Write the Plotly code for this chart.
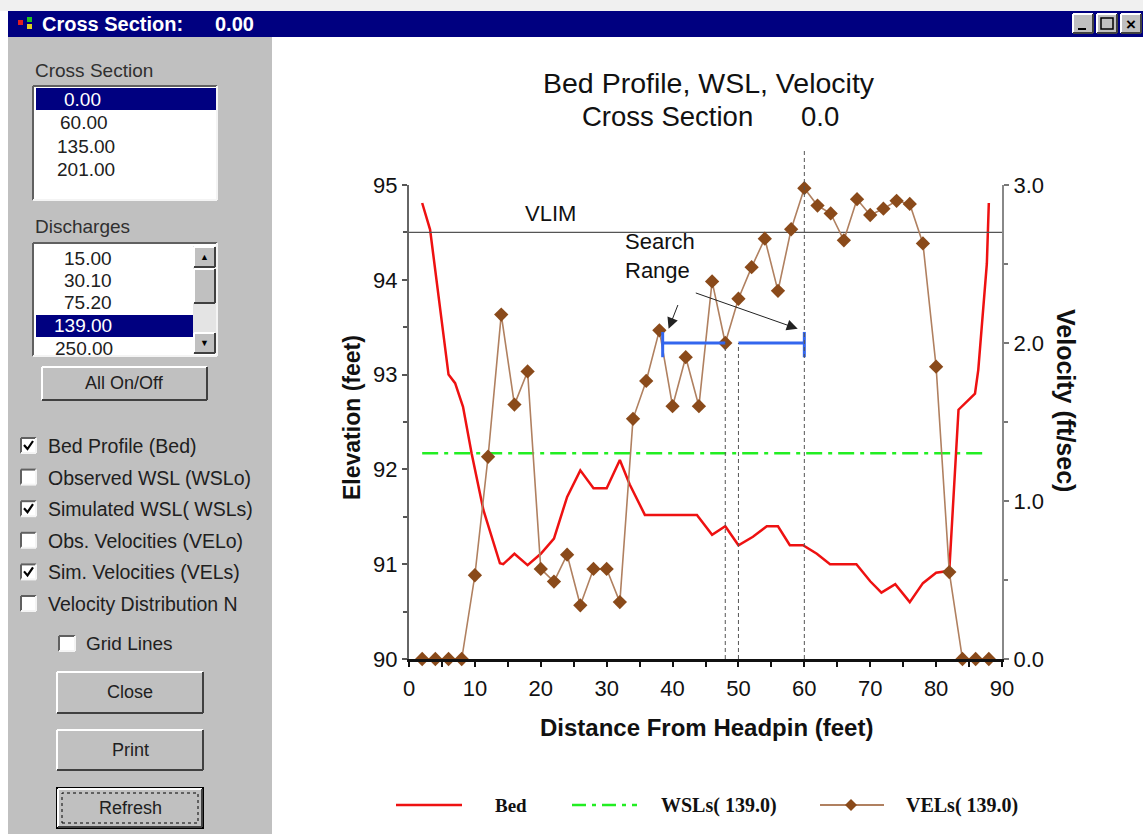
import plotly.graph_objects as go

W, H = 1143, 834

# bed profile: distance from headpin (ft) / elevation (ft)
bed_x = [2, 3.2, 6, 7, 8.2, 9.5, 11.3, 13.8, 14.3, 16, 18, 20, 22, 24, 26, 28, 30, 32, 33.5, 35.8,
         43.7, 46, 48, 50, 52.2, 54.3, 56, 57.8, 59.8, 61.9, 63.9, 67.9, 70, 71.7, 73.8, 76, 78, 80, 82, 83.4,
         85.9, 86.4, 87.7, 88]
bed_elev = [94.81, 94.53, 93.0, 92.91, 92.66, 92.17, 91.57, 91.01, 91.0, 91.11, 90.99, 91.11, 91.27, 91.71,
            91.99, 91.8, 91.8, 92.1, 91.84, 91.52, 91.52, 91.31, 91.4, 91.2, 91.29, 91.4, 91.4, 91.2, 91.2,
            91.11, 91.0, 91.0, 90.82, 90.7, 90.79, 90.6, 90.8, 90.91, 90.93, 92.63, 92.8, 93.05, 94.17, 94.81]

# simulated velocities (ft/sec)
vel_x = [2, 4, 6, 8, 10, 12, 14, 16, 18, 20, 22, 24, 26, 28, 30, 32, 34, 36, 38, 40, 42, 44,
         46, 48, 50, 52, 54, 56, 58, 60, 62, 64, 66, 68, 70, 72, 74, 76, 78, 80, 82, 84, 86, 88]
vel = [0, 0, 0, 0, 0.53, 1.28, 2.18, 1.61, 1.82, 0.57, 0.49, 0.66, 0.34, 0.57, 0.57, 0.36, 1.52, 1.76,
       2.08, 1.60, 1.91, 1.60, 2.39, 2.0, 2.28, 2.48, 2.66, 2.33, 2.72, 2.98, 2.87, 2.82, 2.65, 2.91,
       2.81, 2.85, 2.90, 2.88, 2.63, 1.85, 0.55, 0, 0, 0]

# simulated water surface
wsl = 92.17
wsl_x = [2, 87]

# velocity limit and search range
vlim = 2.7
search_lo, search_hi = 38.5, 60.0
sel_a, sel_b = 48.0, 50.0
bar_v = 2.0

cross_sections = ["0.00", "60.00", "135.00", "201.00"]
discharges = ["15.00", "30.10", "75.20", "139.00", "250.00"]
options = ["Bed Profile (Bed)", "Observed WSL (WSLo)", "Simulated WSL( WSLs)",
           "Obs. Velocities (VELo)", "Sim. Velocities (VELs)", "Velocity Distribution N"]
checked = [True, False, True, False, True, False]


def px(x):
    return x / W


def py(y):
    return 1 - y / H


shapes = []
notes = []


def rect(x0, y0, x1, y1, fill, lc=None, lw=0, dash=None):
    shapes.append(dict(type="rect", xref="paper", yref="paper",
                       x0=px(x0), x1=px(x1), y0=py(y1), y1=py(y0), fillcolor=fill,
                       line=dict(width=lw, color=lc or fill, dash=dash)))


def seg(x0, y0, x1, y1, color, w=1, dash=None):
    shapes.append(dict(type="line", xref="paper", yref="paper",
                       x0=px(x0), x1=px(x1), y0=py(y0), y1=py(y1),
                       line=dict(width=w, color=color, dash=dash)))


def text(x, y, s, size=18, color="#222222", anchor="left", family="Liberation Sans", angle=0):
    notes.append(dict(x=px(x), y=py(y), xref="paper", yref="paper", text=s, showarrow=False,
                      xanchor=anchor, yanchor="middle", textangle=angle,
                      font=dict(size=size, color=color, family=family)))


def raised(x0, y0, x1, y1):
    rect(x0, y0, x1, y1, "#c0c0c0")
    seg(x0, y0, x1, y0, "#ffffff", 2)
    seg(x0, y0, x0, y1, "#ffffff", 2)
    seg(x0, y1, x1, y1, "#404040", 2)
    seg(x1, y0, x1, y1, "#404040", 2)


def sunken(x0, y0, x1, y1):
    rect(x0, y0, x1, y1, "#ffffff")
    seg(x0, y0, x1, y0, "#606060", 2)
    seg(x0, y0, x0, y1, "#606060", 2)
    seg(x0, y1, x1, y1, "#f4f4f4", 2)
    seg(x1, y0, x1, y1, "#f4f4f4", 2)


# window chrome
rect(0, 0, W, 11, "#f0f0f0")
rect(8, 11, W, 37, "#000080")
rect(18, 20, 23, 25, "#e02020")
rect(27, 17, 32, 22, "#20c020")
rect(27, 24, 32, 29, "#e0d020")
text(40, 24, "<b>Cross Section:</b>", 20, "#ffffff")
text(213, 24, "<b>0.00</b>", 20, "#ffffff")
for bx in (1073, 1097, 1121):
    raised(bx, 14, bx + 20, 33)
seg(1078, 29, 1086, 29, "#000000", 2)
rect(1101, 18, 1113, 29, "rgba(0,0,0,0)", "#000000", 1.5)
text(1131, 24, "<b>×</b>", 17, "#000000", "center")

# control panel
rect(8, 37, 272, H, "#c0c0c0")
text(33, 70, "Cross Section", 19, "#303030")
sunken(33, 86, 217, 200)
rect(36, 88, 216, 110, "#000080")
xs_left = [62, 58, 55, 55]
for i, s in enumerate(cross_sections):
    text(xs_left[i], 99 + 23.5 * i, s, 19, "#ffffff" if i == 0 else "#202020")

text(33, 227, "Discharges", 19, "#303030")
sunken(33, 243, 217, 356)
rect(36, 315, 193, 337, "#000080")
dq_left = [62, 62, 62, 52, 53]
for i, s in enumerate(discharges):
    text(dq_left[i], 258 + 22.5 * i, s, 19, "#ffffff" if i == 3 else "#202020")
rect(193, 246, 216, 354, "#e4e4e4")
raised(194, 247, 215, 267)
text(204.5, 257, "▲", 9, "#000000", "center")
raised(194, 269, 215, 303)
raised(194, 333, 215, 353)
text(204.5, 343, "▼", 9, "#000000", "center")

raised(42, 367, 207, 400)
text(124.5, 383, "All On/Off", 18, "#202020", "center")

for i, s in enumerate(options):
    cy = 446 + 31.6 * i
    sunken(21, cy - 8, 36, cy + 7)
    if checked[i]:
        shapes.append(dict(type="path", xref="paper", yref="paper",
                           path=f"M {px(24)},{py(cy - 1)} L {px(27.5)},{py(cy + 3)} L {px(33)},{py(cy - 5)}",
                           line=dict(color="#000000", width=2.2)))
    text(46, cy, s, 19.5, "#202020")

sunken(59, 636, 75, 651)
text(84, 643, "Grid Lines", 19, "#202020")

raised(57, 672, 203, 713)
text(130, 692, "Close", 18, "#202020", "center")
raised(57, 730, 203, 770)
text(130, 750, "Print", 18, "#202020", "center")
rect(56, 787, 204, 829, "#000000")
raised(58, 789, 202, 827)
rect(62, 793, 198, 823, "rgba(0,0,0,0)", "#000000", 1, "dot")
text(130, 808, "Refresh", 18, "#202020", "center")

# chart titles
text(709, 83, "Bed Profile, WSL, Velocity", 28.5, "#111111", "center")
text(667, 116, "Cross Section", 27.5, "#111111", "center")
text(820, 116, "0.0", 27.5, "#111111", "center")
text(352, 418, "<b>Elevation (feet)</b>", 23, "#111111", "center", angle=-90)
text(1066, 400, "<b>Velocity (ft/sec)</b>", 25, "#111111", "center", angle=90)
text(706, 727, "<b>Distance From Headpin (feet)</b>", 24, "#111111", "center")

# custom legend
leg_y = 805
seg(396, leg_y, 462, leg_y, "#ee1111", 2.5)
text(511, leg_y, "<b>Bed</b>", 19, "#111111", "center", "Liberation Serif")
seg(572, leg_y, 637, leg_y, "#22ee22", 2.5, "14px,6px,4px,6px")
text(659, leg_y, "<b>WSLs( 139.0)</b>", 20, "#111111", "left", "Liberation Serif")
seg(820, leg_y, 884, leg_y, "#b08060", 2)
shapes.append(dict(type="path", xref="paper", yref="paper",
                   path=f"M {px(851)},{py(leg_y - 6)} L {px(857)},{py(leg_y)} L {px(851)},{py(leg_y + 6)} "
                        f"L {px(845)},{py(leg_y)} Z",
                   fillcolor="#8a4a1a", line=dict(width=0)))
text(904, leg_y, "<b>VELs( 139.0)</b>", 20, "#111111", "left", "Liberation Serif")

# search-range markers
shapes.append(dict(type="line", xref="x", yref="y2", x0=sel_a, x1=sel_a, y0=0, y1=bar_v,
                   line=dict(color="#555555", width=1, dash="4px,3px")))
shapes.append(dict(type="line", xref="x", yref="y2", x0=sel_b, x1=sel_b, y0=0, y1=bar_v,
                   line=dict(color="#555555", width=1, dash="4px,3px")))
shapes.append(dict(type="line", xref="x", yref="paper", x0=search_hi, x1=search_hi, y0=py(659), y1=py(150),
                   line=dict(color="#555555", width=1, dash="4px,3px")))

fig = go.Figure()

fig.add_trace(go.Scatter(x=wsl_x, y=[wsl, wsl], mode="lines", yaxis="y",
                         line=dict(color="#22ee22", width=2.5, dash="16px,6px,4px,6px")))
fig.add_trace(go.Scatter(x=[0, 90], y=[vlim, vlim], mode="lines", yaxis="y2",
                         line=dict(color="#555555", width=1.3)))
fig.add_trace(go.Scatter(x=bed_x, y=bed_elev, mode="lines", yaxis="y",
                         line=dict(color="#ee1111", width=2.5)))
fig.add_trace(go.Scatter(x=vel_x, y=vel, mode="lines+markers", yaxis="y2", cliponaxis=False,
                         line=dict(color="#b08060", width=1.6),
                         marker=dict(symbol="diamond", size=11, color="#8a4a1a")))
fig.add_trace(go.Scatter(x=[search_lo, search_lo, None, search_lo, sel_a],
                         y=[bar_v - 0.09, bar_v + 0.07, None, bar_v, bar_v], mode="lines", yaxis="y2",
                         line=dict(color="#3366ee", width=3)))
fig.add_trace(go.Scatter(x=[search_hi, search_hi, None, sel_b, search_hi],
                         y=[bar_v - 0.09, bar_v + 0.07, None, bar_v, bar_v], mode="lines", yaxis="y2",
                         line=dict(color="#3366ee", width=3)))

# VLIM label and search range callout
notes.append(dict(x=21.5, y=vlim, xref="x", yref="y2", text="VLIM", showarrow=False,
                  yanchor="bottom", yshift=4, font=dict(size=22, color="#111111", family="Liberation Sans")))
notes.append(dict(x=32.5, y=2.55, xref="x", yref="y2", text="Search<br>Range", showarrow=False,
                  xanchor="left", yanchor="middle", align="left",
                  font=dict(size=22, color="#111111", family="Liberation Sans")))
notes.append(dict(x=39.4, y=2.09, xref="x", yref="y2", ax=40.9, ay=2.25, axref="x", ayref="y2",
                  text="", showarrow=True, arrowhead=2, arrowsize=2.2, arrowwidth=1, arrowcolor="#222222"))
notes.append(dict(x=59.0, y=2.09, xref="x", yref="y2", ax=43.3, ay=2.32, axref="x", ayref="y2",
                  text="", showarrow=True, arrowhead=2, arrowsize=2.2, arrowwidth=1, arrowcolor="#222222"))

tick_font = dict(size=22, color="#111111", family="Liberation Sans")
fig.update_layout(
    width=W, height=H,
    margin=dict(l=0, r=0, t=0, b=0, autoexpand=False),
    paper_bgcolor="#ffffff", plot_bgcolor="#ffffff",
    showlegend=False,
    shapes=shapes, annotations=notes,
    xaxis=dict(domain=[px(409), px(1002)], range=[0, 90], dtick=10, tick0=0,
               ticks="outside", ticklen=5, tickcolor="#111111", tickwidth=2,
               minor=dict(dtick=5, ticks="outside", ticklen=5, tickcolor="#111111", tickwidth=2),
               showline=True, linecolor="#111111", linewidth=2.5, showgrid=False, zeroline=False,
               tickfont=tick_font, ticklabelstandoff=3),
    yaxis=dict(domain=[py(659), py(185)], range=[90, 95], dtick=1,
               ticks="outside", ticklen=5, tickcolor="#555555", tickwidth=1.5,
               minor=dict(dtick=0.5, ticks="outside", ticklen=4, tickcolor="#555555", tickwidth=1.5),
               showline=True, linecolor="#666666", linewidth=2, showgrid=False, zeroline=False,
               tickfont=tick_font),
    yaxis2=dict(domain=[py(659), py(185)], range=[0, 3], dtick=1, tickformat=".1f",
                overlaying="y", side="right", anchor="x",
                ticks="outside", ticklen=5, tickcolor="#777777", tickwidth=1.5,
                minor=dict(dtick=0.5, ticks="outside", ticklen=4, tickcolor="#777777", tickwidth=1.5),
                showline=True, linecolor="#888888", linewidth=2, showgrid=False, zeroline=False,
                tickfont=tick_font),
)

# the page body has a default 8px margin; drop it so the figure fills the window exactly
fig.write_html("out.html", config={"displayModeBar": False},
               post_script="document.body.style.margin='0';")
